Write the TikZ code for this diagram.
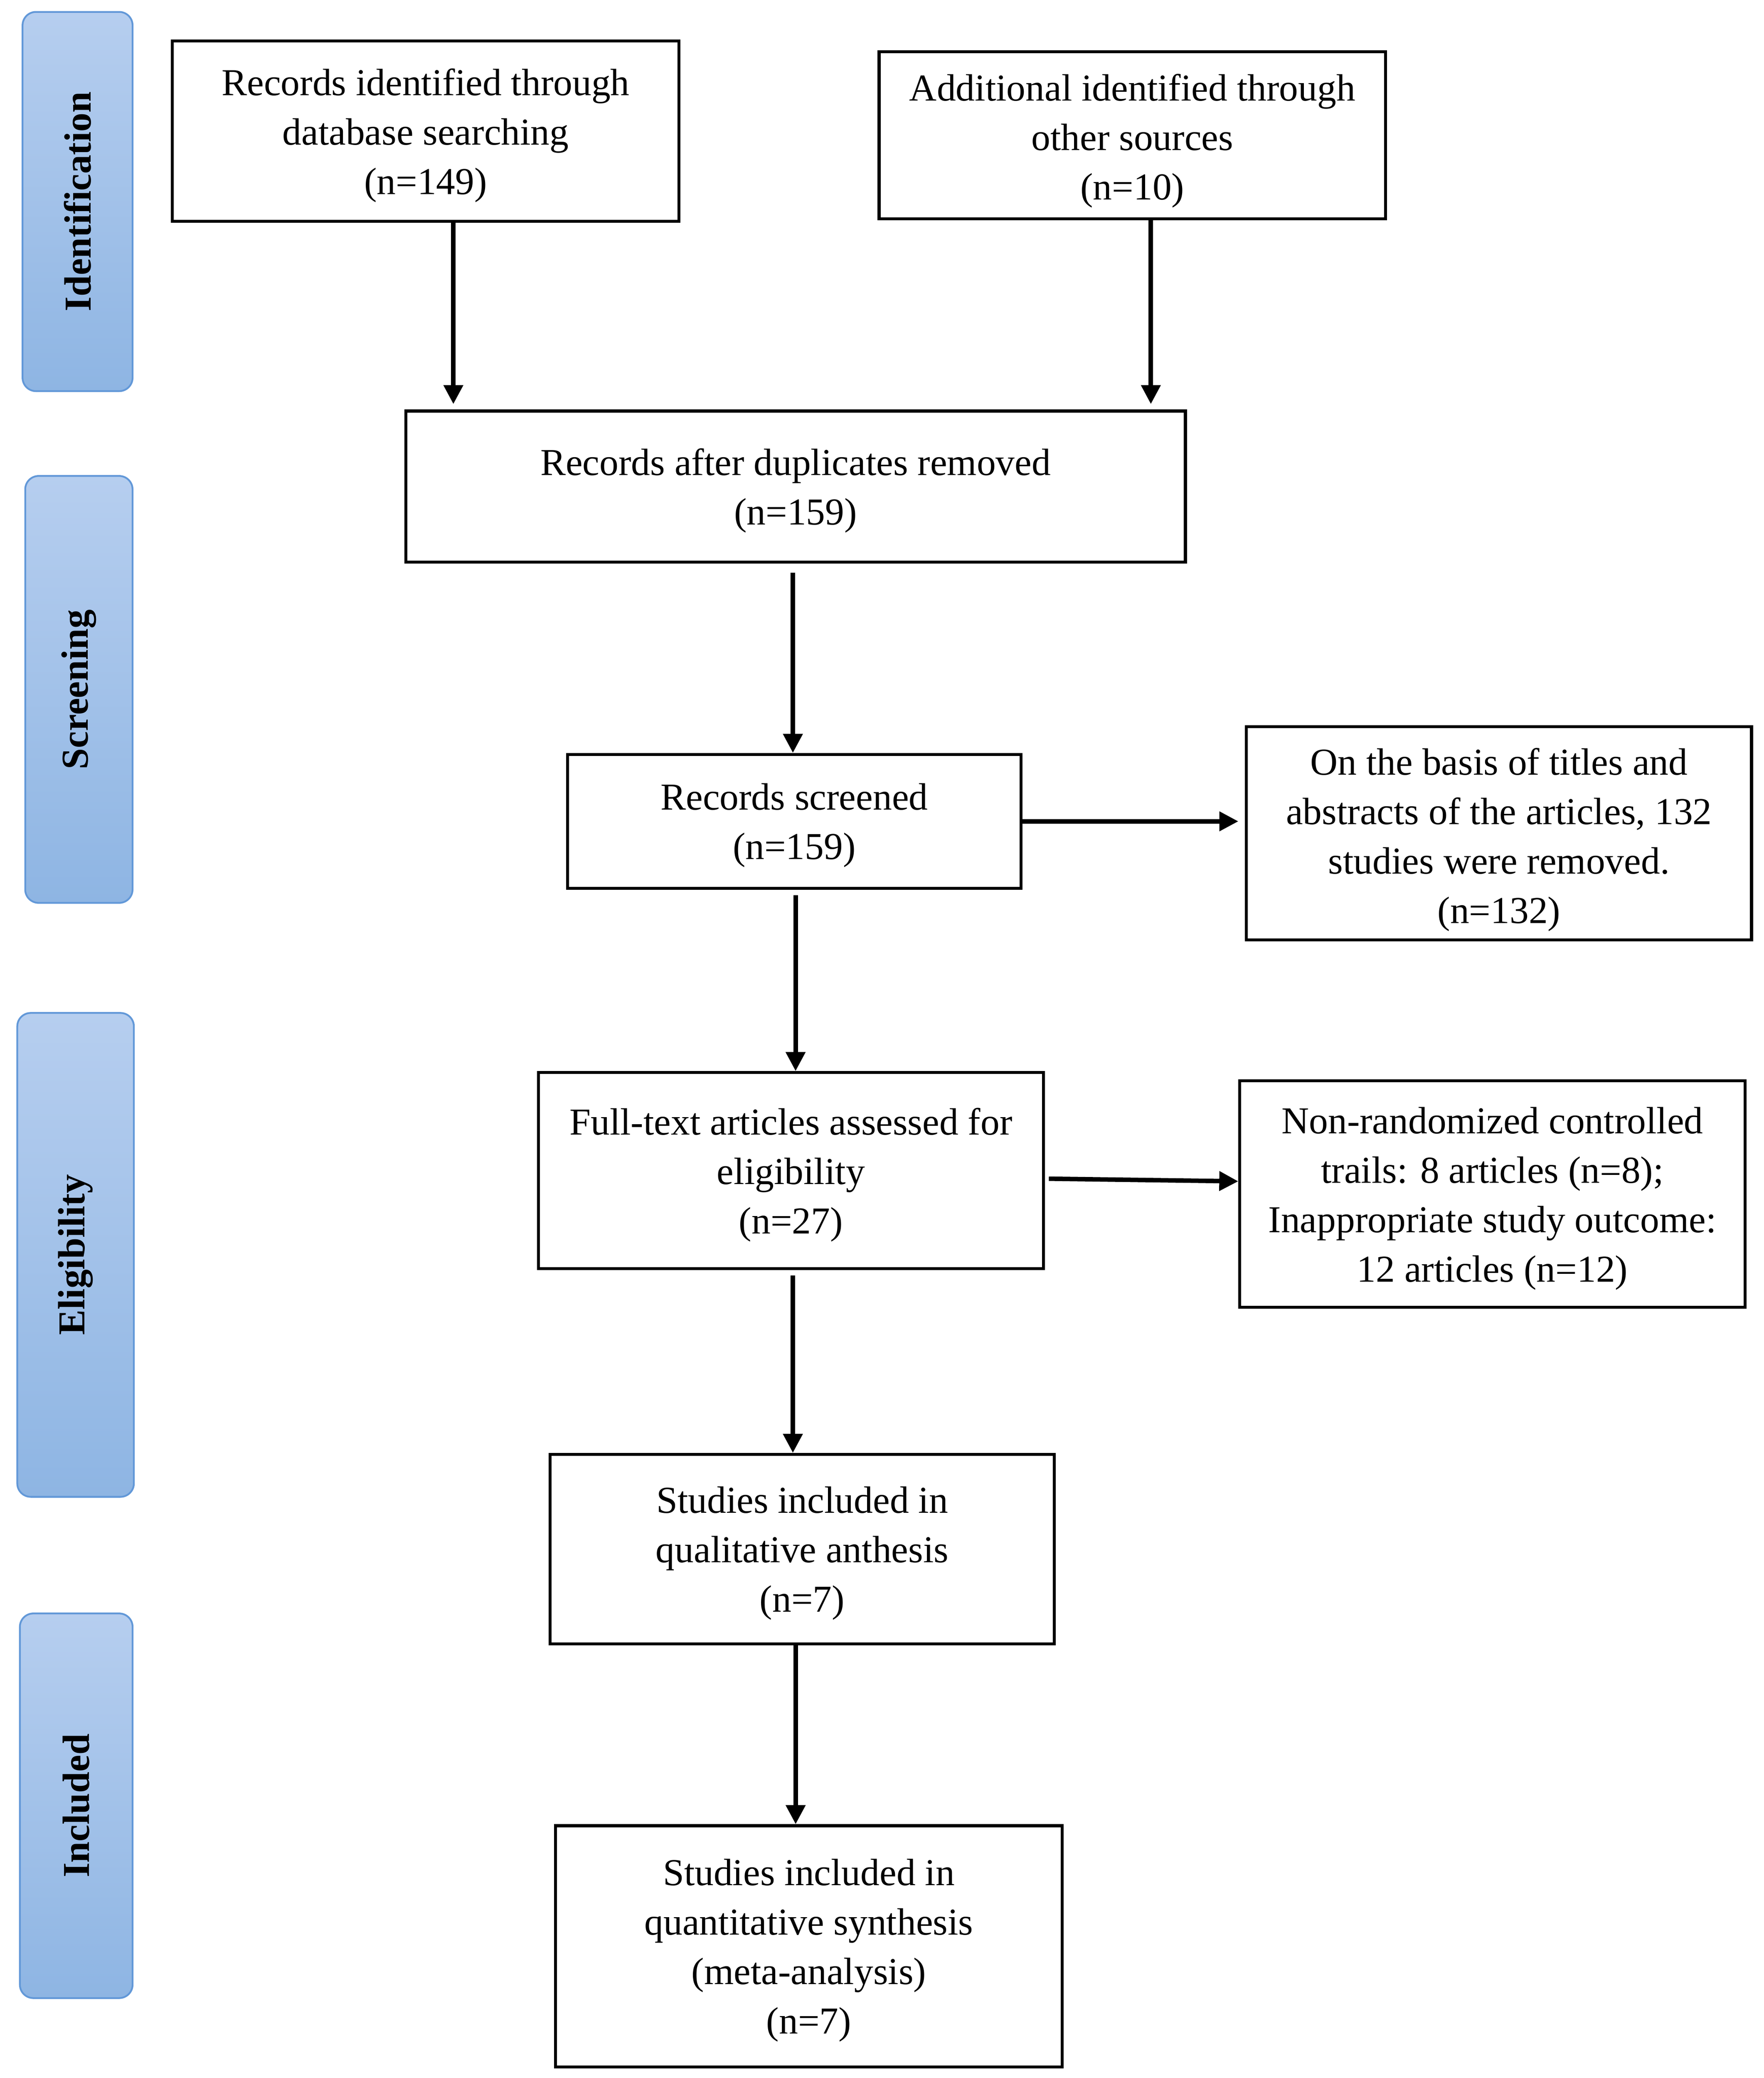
\documentclass[tikz,border=0pt]{standalone}
\usepackage{fontspec}
\setmainfont{Liberation Serif}
\usetikzlibrary{arrows.meta,calc}
\definecolor{bartop}{RGB}{182,206,239}
\definecolor{barbot}{RGB}{142,181,227}
\definecolor{barline}{RGB}{98,152,216}
\tikzset{
  box/.style={draw=black, line width=1pt, fill=white, inner sep=0pt},
  boxtext/.style={align=center, inner sep=0pt, font=\fontsize{12.76pt}{16.6pt}\selectfont},
  bar/.style={draw=barline, line width=0.6pt, rounded corners=4.5pt, top color=bartop, bottom color=barbot,
    inner sep=0pt},
  bartext/.style={rotate=90, font=\bfseries\fontsize{12.76pt}{16.6pt}\selectfont, inner sep=0pt},
  arr/.style={line width=1.5pt, -{Triangle[length=6.4pt,width=6.3pt]}}
}
\begin{document}
\begin{tikzpicture}[x=0.4447pt,y=-0.4447pt]
\useasboundingbox (0,0) rectangle (1330.1,1567.35);
% side bars
\node[bar, minimum width=36.9pt, minimum height=127.2pt] (S1) at (58.5,152) {};
\node[bartext] (T1) at (S1.center) {Identification};
\node[bar, minimum width=36.0pt, minimum height=143.2pt] (S2) at (59.5,520) {};
\node[bartext] (T2) at (S2.center) {Screening};
\node[bar, minimum width=39.1pt, minimum height=162.3pt] (S3) at (57,946.5) {};
\node[bartext] (T3) at (S3.center) {Eligibility};
\node[bar, minimum width=37.8pt, minimum height=129pt] (S4) at (57.5,1362) {};
\node[bartext] (T4) at (S4.center) {Included};
% boxes
\node[box, minimum width=169.9pt, minimum height=60.5pt] (B1) at (321,99) {};
\node[boxtext] (B1t) at ([yshift=-1.4pt]B1.center) {Records identified through\\database searching\\(n=149)};
\node[box, minimum width=169.9pt, minimum height=56.0pt] (B2) at (854,102) {};
\node[boxtext] (B2t) at ([yshift=-1.9pt]B2.center) {Additional identified through\\other sources\\(n=10)};
\node[box, minimum width=261.5pt, minimum height=50.7pt] (B3) at (600,367) {};
\node[boxtext] (B3t) at ([yshift=-1.4pt]B3.center) {Records after duplicates removed\\(n=159)};
\node[box, minimum width=152.1pt, minimum height=44.9pt] (B4) at (599,619.5) {};
\node[boxtext] (B4t) at ([yshift=-1.4pt]B4.center) {Records screened\\(n=159)};
\node[box, minimum width=169.4pt, minimum height=71.6pt] (B5) at (1130.5,628.5) {};
\node[boxtext] (B5t) at ([yshift=-2.2pt]B5.center) {On the basis of titles and\\abstracts of the articles, 132\\studies were removed.\\(n=132)};
\node[box, minimum width=169.4pt, minimum height=65.8pt] (B6) at (596.5,883) {};
\node[boxtext] (B6t) at ([yshift=-1.4pt]B6.center) {Full-text articles assessed for\\eligibility\\(n=27)};
\node[box, minimum width=169.4pt, minimum height=76.0pt] (B7) at (1125.5,900.5) {};
\node[boxtext] (B7t) at ([yshift=-1.6pt]B7.center) {Non-randomized controlled\\trails: 8 articles (n=8);\\Inappropriate study outcome:\\12 articles (n=12)};
\node[box, minimum width=169.0pt, minimum height=63.6pt] (B8) at (605,1168.5) {};
\node[boxtext] (B8t) at ([yshift=-1.4pt]B8.center) {Studies included in\\qualitative anthesis\\(n=7)};
\node[box, minimum width=169.9pt, minimum height=80.9pt] (B9) at (610,1468) {};
\node[boxtext] (B9t) at ([yshift=-1.4pt]B9.center) {Studies included in\\quantitative synthesis\\(meta-analysis)\\(n=7)};
% connectors
\draw[arr, shorten >=1.8pt] ([xshift=9.3pt]B1.south) -- ([xshift=9.3pt]B1.south |- B3.north);
\draw[arr, shorten >=1.8pt] ([xshift=6.2pt]B2.south) -- ([xshift=6.2pt]B2.south |- B3.north);
\draw[arr, shorten <=3pt] ([xshift=-0.9pt]B3.south) -- ([xshift=-0.9pt]B3.south |- B4.north);
\draw[arr, shorten >=2.2pt] (B4.east) -- (B4.east -| B5.west);
\draw[arr, shorten <=1.8pt] ([xshift=0.45pt]B4.south) -- ([xshift=0.45pt]B4.south |- B6.north);
\draw[arr, shorten <=1.3pt] ([yshift=-2.67pt]B6.east) -- ([yshift=4.22pt]B7.west);
\draw[arr, shorten <=1.8pt] ([xshift=0.65pt]B6.south) -- ([xshift=0.65pt]B6.south |- B8.north);
\draw[arr] ([xshift=-2.2pt]B8.south) -- ([xshift=-2.2pt]B8.south |- B9.north);
\end{tikzpicture}
\end{document}
